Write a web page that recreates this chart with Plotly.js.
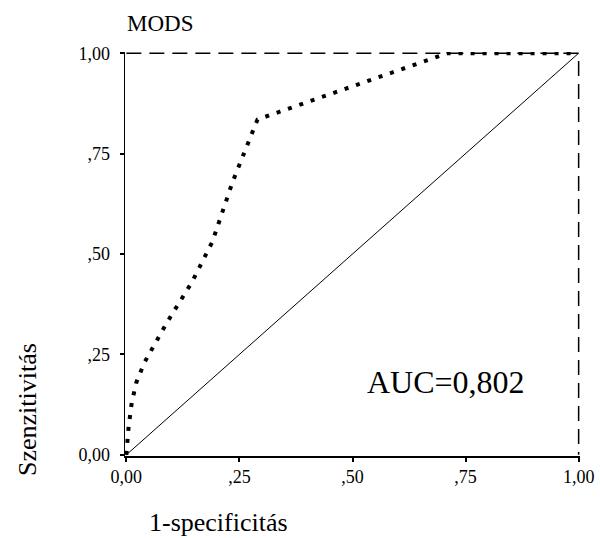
<!DOCTYPE html>
<html>
<head>
<meta charset="utf-8">
<script src="https://cdn.plot.ly/plotly-3.0.1.min.js"></script>
<style>html,body{margin:0;padding:0;background:#fff;}#chart{width:600px;height:538px;}</style>
</head>
<body>
<div id="chart"></div>
<script>
// ROC curve for MODS
const rocX = [0, 0.005, 0.012, 0.022, 0.04, 0.09, 0.145, 0.19, 0.235, 0.29, 0.71, 1.0];
const rocY = [0, 0.07, 0.13, 0.18, 0.23, 0.33, 0.43, 0.53, 0.68, 0.835, 1.0, 1.0];
// reference diagonal
const diagX = [0, 1];
const diagY = [0, 1];
// dashed frame (top and right)
const frameX = [0, 1, 1];
const frameY = [1, 1, 0];
const tickVals = [0, 0.25, 0.5, 0.75, 1];
const tickText = ["0,00", ",25", ",50", ",75", "1,00"];
const chartTitle = "MODS";
const xTitle = "1-specificitás";
const yTitle = "Szenzitivitás";
const aucText = "AUC=0,802";

const serif = "'Times New Roman', 'Liberation Serif', 'DejaVu Serif', serif";

const traces = [
  {x: frameX, y: frameY, mode: "lines", line: {color: "#000", width: 1.5, dash: "15px,8px"}, hoverinfo: "skip"},
  {x: diagX, y: diagY, mode: "lines", line: {color: "#000", width: 1}, hoverinfo: "skip"},
  {x: rocX, y: rocY, mode: "lines", line: {color: "#000", width: 4, dash: "4px,8px"}, hoverinfo: "skip"}
];

const axisCommon = {
  range: [-0.003, 1.003],
  tickvals: tickVals,
  ticktext: tickText,
  showgrid: false,
  zeroline: false,
  showline: true,
  linecolor: "#000",
  linewidth: 1.5,
  ticks: "outside",
  ticklen: 4,
  tickwidth: 2,
  tickcolor: "#000",
  tickfont: {family: serif, size: 18, color: "#000"},
  fixedrange: true
};

const layout = {
  width: 600, height: 538,
  margin: {l: 125, r: 20, t: 52, b: 82},
  paper_bgcolor: "#fff",
  plot_bgcolor: "#fff",
  showlegend: false,
  font: {family: serif, color: "#000"},
  xaxis: Object.assign({}, axisCommon),
  yaxis: Object.assign({}, axisCommon, {ticklabelstandoff: 6}),
  annotations: [
    {text: chartTitle, xref: "paper", yref: "paper", x: 0.0, y: 1, yshift: 29, xanchor: "left", yanchor: "middle", showarrow: false, font: {family: serif, size: 23, color: "#000"}},
    {text: aucText, xref: "x", yref: "y", x: 0.707, y: 0.181, xanchor: "center", yanchor: "middle", showarrow: false, font: {family: serif, size: 32, color: "#000"}},
    {text: xTitle, xref: "paper", yref: "paper", x: 0.048, y: 0, yshift: -66, xanchor: "left", yanchor: "middle", showarrow: false, font: {family: serif, size: 26, color: "#000"}},
    {text: yTitle, xref: "paper", yref: "paper", x: 0, xshift: -98, y: 0, yshift: 46, textangle: -90, xanchor: "center", yanchor: "middle", showarrow: false, font: {family: serif, size: 26, color: "#000"}}
  ]
};

Plotly.newPlot("chart", traces, layout, {displayModeBar: false, staticPlot: true});
</script>
</body>
</html>
